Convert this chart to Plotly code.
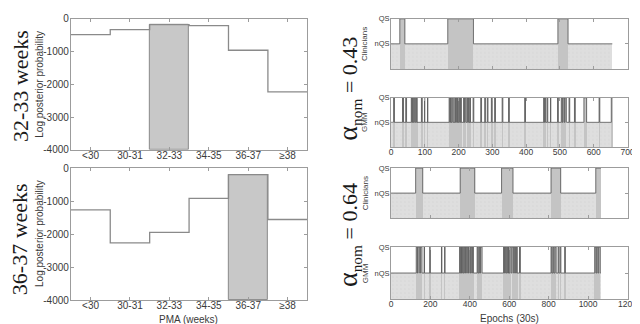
import plotly.graph_objects as go

W, H = 640, 324

# ---- left column: log posterior probability per PMA class ----
PMA_LABELS = ["<30", "30-31", "32-33", "34-35", "36-37", "≥38"]
LOGP_32_33 = [-480, -330, -180, -210, -960, -2230]
LOGP_36_37 = [-1270, -2270, -1950, -920, -200, -1560]
TRUE_BIN_32_33 = 2
TRUE_BIN_36_37 = 4
LOGP_TICKS = [0, -1000, -2000, -3000, -4000]
LOGP_TICKTEXT = ["0", "-1000", "-2000", "-3000", "-4000"]
LOGP_MIN = -4000

# ---- right column: quiet sleep (QS) runs in epochs, the rest is nQS ----
LEN_043 = 655
CLIN_QS_043 = [(26, 41), (168, 244), (494, 524)]
GMM_QS_043 = [(8, 10), (34, 37), (44, 46), (60, 62), (64, 66), (69, 72), (75, 77),
              (90, 92), (99, 100), (108, 109), (172, 174), (176, 178), (181, 184),
              (189, 191), (193, 195), (197, 199), (202, 204), (206, 208), (215, 217),
              (219, 222), (225, 227), (229, 231), (234, 235), (243, 245), (266, 268),
              (278, 279), (285, 287), (297, 299), (307, 309), (329, 331), (348, 350),
              (396, 398), (452, 454), (456, 458), (462, 464), (472, 473), (493, 495),
              (504, 507), (509, 513), (515, 519), (527, 529), (543, 545), (571, 579),
              (616, 618), (652, 655)]
LEN_064 = 1065
CLIN_QS_064 = [(125, 161), (351, 425), (561, 619), (812, 861), (1039, 1065)]
GMM_QS_064 = [(128, 134), (137, 146), (149, 157), (168, 170), (197, 199), (256, 258),
              (272, 274), (348, 352), (356, 358), (362, 366), (370, 374), (378, 384),
              (387, 393), (396, 402), (405, 410), (413, 418), (437, 441), (446, 450),
              (454, 462), (571, 576), (580, 584), (588, 592), (596, 598), (603, 610),
              (614, 622), (626, 632), (636, 640), (652, 656), (812, 816), (822, 826),
              (832, 838), (848, 852), (858, 862), (882, 884), (1034, 1040),
              (1044, 1050), (1054, 1062)]
STATE_TICKS = [1, 2]
STATE_LABELS = ["nQS", "QS"]

FONT = "Liberation Sans, Arial, sans-serif"
SERIF = "Liberation Serif, Times New Roman, serif"
TXT = "#3a3a3a"
BOX = "#9c9c9c"
STEP = "#8a8a8a"
EDGE = "#5e5e5e"
NQS_FILL = "#dedede"
QS_FILL = "#c4c4c4"


def dom(top, bottom):
    return [1 - bottom / H, 1 - top / H]


def to_runs(qs, n):
    runs, pos = [], 0
    for s, e in qs:
        if s > pos:
            runs.append((pos, s, 1))
        runs.append((s, e, 2))
        pos = e
    if pos < n:
        runs.append((pos, n, 1))
    return runs


fig = go.Figure()


def add_posterior(vals, hi, xa, ya):
    fig.add_trace(go.Bar(
        x=[hi], y=[vals[hi] - LOGP_MIN], base=LOGP_MIN, width=1,
        marker=dict(color="#c8c8c8", line=dict(color=STEP, width=1)),
        xaxis=xa, yaxis=ya, hoverinfo="skip", showlegend=False))
    xs = [i - 0.5 for i in range(len(vals))] + [len(vals) - 0.5]
    ys = list(vals) + [vals[-1]]
    fig.add_trace(go.Scatter(
        x=xs, y=ys, mode="lines", line=dict(color=STEP, width=1.3, shape="hv"),
        xaxis=xa, yaxis=ya, hoverinfo="skip", showlegend=False))


def add_hypno(qs, n, xa, ya):
    runs = to_runs(qs, n)
    for lvl, color in ((1, NQS_FILL), (2, QS_FILL)):
        rr = [r for r in runs if r[2] == lvl]
        marker = dict(color=color, line=dict(width=0))
        if lvl == 1:
            # faint stipple like the original print
            marker["pattern"] = dict(shape=".", fgcolor="#c9c9c9", size=4,
                                     solidity=0.12, fillmode="overlay")
        fig.add_trace(go.Bar(
            x=[(s + e) / 2 for s, e, _ in rr], y=[lvl] * len(rr),
            width=[e - s for s, e, _ in rr], marker=marker,
            xaxis=xa, yaxis=ya, hoverinfo="skip", showlegend=False))
    xs = [r[0] for r in runs] + [runs[-1][1]]
    ys = [r[2] for r in runs] + [runs[-1][2]]
    fig.add_trace(go.Scatter(
        x=xs, y=ys, mode="lines", line=dict(color=EDGE, width=0.9, shape="hv"),
        xaxis=xa, yaxis=ya, hoverinfo="skip", showlegend=False))


add_posterior(LOGP_32_33, TRUE_BIN_32_33, "x", "y")
add_posterior(LOGP_36_37, TRUE_BIN_36_37, "x2", "y2")
add_hypno(CLIN_QS_043, LEN_043, "x3", "y3")
add_hypno(GMM_QS_043, LEN_043, "x4", "y4")
add_hypno(CLIN_QS_064, LEN_064, "x5", "y5")
add_hypno(GMM_QS_064, LEN_064, "x6", "y6")

AX = dict(showline=True, linecolor=BOX, linewidth=1, mirror="ticks", ticks="inside",
          ticklen=3, tickcolor=BOX, showgrid=False, zeroline=False, fixedrange=True)
LEFT_X = [62 / W, 303 / W]
RIGHT_X = [388.3 / W, 629.3 / W]

layout = dict(
    width=W, height=H, margin=dict(l=0, r=0, t=0, b=0),
    paper_bgcolor="white", plot_bgcolor="white",
    barmode="overlay", bargap=0, showlegend=False,
    font=dict(family=FONT, color=TXT, size=10),
)

# left column axes
for i, (top, bot) in enumerate([(5, 141), (160, 297)], start=1):
    sx = "" if i == 1 else str(i)
    layout["xaxis" + sx] = dict(AX, domain=LEFT_X, anchor="y" + sx, range=[-0.5, 5.5],
                               tickvals=list(range(len(PMA_LABELS))), ticktext=PMA_LABELS,
                               tickfont=dict(size=10, color=TXT), ticklabelstandoff=-4,
                               ticklabeloverflow="allow")
    layout["yaxis" + sx] = dict(AX, domain=dom(top, bot), anchor="x" + sx, range=[LOGP_MIN, 0],
                               tickvals=LOGP_TICKS, ticktext=LOGP_TICKTEXT,
                               tickfont=dict(size=10, color=TXT), ticklabelstandoff=-1)

# right column axes
panels = [
    (3, 5, 57, 700, 100, False),
    (4, 87, 138, 700, 100, True),
    (5, 160, 212, 1200, 200, False),
    (6, 242, 296, 1200, 200, True),
]
for n, top, bot, xmax, dt, show_x in panels:
    layout["xaxis%d" % n] = dict(AX, domain=RIGHT_X, anchor="y%d" % n, range=[0, xmax],
                                 dtick=dt, showticklabels=show_x,
                                 tickfont=dict(size=8.5, color=TXT), ticklabelstandoff=-3,
                                 ticklabeloverflow="allow")
    layout["yaxis%d" % n] = dict(AX, domain=dom(top, bot), anchor="x%d" % n, range=[0, 2],
                                 tickvals=STATE_TICKS, ticktext=STATE_LABELS,
                                 tickfont=dict(size=7.5, color=TXT), ticklabelstandoff=-1)

fig.update_layout(**layout)

# axis titles placed as paper annotations for exact positions
def title(text, x, y, size, angle=0):
    fig.add_annotation(xref="paper", yref="paper", x=x / W, y=1 - y / H, text=text,
                       showarrow=False, textangle=angle, xanchor="center", yanchor="middle",
                       font=dict(family=FONT, size=size, color=TXT))


title("Log posterior probability", 30, 73, 10, -90)
title("Log posterior probability", 30, 228, 10, -90)
title("PMA (weeks)", 182, 317, 10)
title("Clinicians", 362, 31, 8, -90)
title("GMM", 362, 112, 8, -90)
title("Clinicians", 362, 186, 8, -90)
title("GMM", 362, 269, 8, -90)
title("Epochs (30s)", 509, 316, 10)

big = dict(xref="paper", yref="paper", showarrow=False, textangle=-90,
           xanchor="center", yanchor="middle", font=dict(family=SERIF, size=22, color="#1a1a1a"))
fig.add_annotation(big, x=10 / W, y=1 - 75 / H, text="32-33 weeks")
fig.add_annotation(big, x=10 / W, y=1 - 234 / H, text="36-37 weeks")
alpha = "<span style='font-size:28px'>α</span><sub>nom</sub> = %s"
fig.add_annotation(big, x=345 / W, y=1 - 78 / H, text=alpha % "0.43")
fig.add_annotation(big, x=345 / W, y=1 - 230 / H, text=alpha % "0.64")

fig.write_html("out.html")
